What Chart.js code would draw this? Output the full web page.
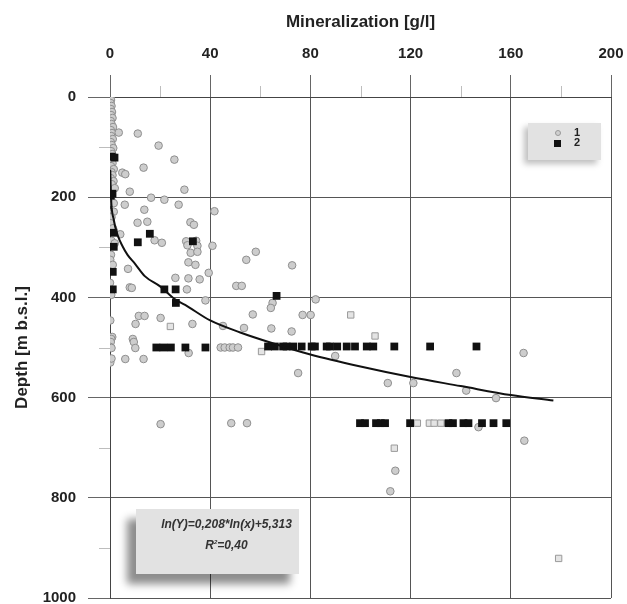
<!DOCTYPE html>
<html>
<head>
<meta charset="utf-8">
<script src="https://cdn.jsdelivr.net/npm/chart.js@4/dist/chart.umd.min.js"></script>
<style>
  html, body { margin: 0; padding: 0; background: #fff; }
  #wrap { position: relative; width: 627px; height: 604px; font-family: "Liberation Sans", Arial, sans-serif; }
  #c { position: absolute; left: 0; top: 0; }
  .box { position: absolute; background: #e2e2e2; }
  #legend { left: 528px; top: 123px; width: 73px; height: 37px; box-shadow: -4px 4px 6px rgba(0,0,0,0.25); }
  #legend .row { position: absolute; left: 0; font-weight: bold; font-size: 11px; color: #222; }
  #legend .lab { position: absolute; left: 46px; top: -7px; }
  #eq { left: 136px; top: 509px; width: 163px; height: 65px; box-shadow: -9px 10px 8px rgba(0,0,0,0.45); }
  #eq div { position: absolute; left: 18px; right: 0; text-align: center; font-weight: bold; font-style: italic; font-size: 12px; color: #333; }
</style>
</head>
<body>
<div id="wrap">
  <canvas id="c" width="627" height="604"></canvas>
  <div id="legend" class="box">
    <div class="row" style="top:10px;">
      <span style="position:absolute;left:27px;top:-3px;width:6px;height:6px;border-radius:50%;background:#cfcfcf;border:1px solid #999;box-sizing:border-box;"></span>
      <span class="lab">1</span>
    </div>
    <div class="row" style="top:20px;">
      <span style="position:absolute;left:26px;top:-3px;width:7px;height:7px;background:#111;"></span>
      <span class="lab">2</span>
    </div>
  </div>
  <div id="eq" class="box">
    <div style="top:8px;">ln(Y)=0,208*ln(x)+5,313</div>
    <div style="top:29px;">R<sup style="font-size:6px;">2</sup>=0,40</div>
  </div>
</div>
<script>
// ---- data (mineralization g/l, depth m b.s.l.) ----
const s1x = [0.2,0.4,0.2,0.6,0.3,0.8,0.4,1.0,0.3,0.6,1.2,0.3,0.8,0.5,1.1,0.3,0.7,1.3,0.4,0.9,0.3,1.0,0.4,1.5,0.6,1.0,0.3,1.4,0.7,1.9,0.5,1.5,1.5,0.6,0.3,1.2,0.6,1.9,0.4,0.1,1.1,0.0,0.5,0.1,0.9,0.5,0.3,0.1,0.6,0.1,0.6,
  3.5,11.1,19.4,25.7,13.4,4.9,6.1,7.9,29.7,5.9,16.4,21.7,27.4,41.7,13.7,11.0,14.9,32.1,33.5,4.1,17.8,20.7,40.9,30.4,34.4,30.9,34.9,32.2,34.9,54.4,58.2,31.3,34.1,7.2,26.1,31.3,35.8,39.4,7.9,8.7,30.7,50.4,52.6,38.1,57.0,11.5,13.8,10.2,20.2,32.9,45.1,53.5,9.1,9.5,10.1,31.4,44.2,45.8,47.8,49.1,51.1,6.1,13.4,20.2,48.4,54.7,72.7,64.9,64.2,82.1,76.9,80.1,64.4,72.5,89.9,75.1,110.9,121.1,113.9,111.9,165.1,138.3,142.2,154.1,147.1,165.4];
const s1y = [0,6,12,18,24,30,36,42,48,54,60,66,72,78,84,90,96,102,108,114,126,132,138,144,150,156,162,168,174,182,205,212,229,240,252,262,287,292,315,325,335,371,395,446,479,483,489,499,501,530,522,
  71,73,97,125,141,151,154,189,185,215,201,205,215,228,225,251,249,250,255,274,286,291,297,288,287,296,297,311,309,325,309,330,335,343,361,362,364,351,380,381,384,377,377,406,434,437,437,453,441,453,457,461,483,489,501,511,500,500,500,500,500,523,523,653,651,651,336,411,421,404,435,435,462,468,517,551,571,571,746,787,511,551,586,601,659,686];
const s1sqX = [24.1,60.5,96.1,105.8,113.5,122.7,127.5,129.4,132.1,179.1];
const s1sqY = [458,508,435,477,701,651,651,651,651,921];
const s2x = [0.7,1.8,1.0,0.3,1.4,15.9,11.1,33.1,1.5,1.1,1.1,21.7,26.2,26.3,66.5,18.5,21.3,24.3,30.1,38.1,
  63.1,65.8,69.1,70.5,73.1,76.5,80.5,81.8,86.5,87.8,90.7,94.5,97.8,102.5,105.1,113.5,127.8,146.3,
  99.8,101.8,106.2,108.1,109.8,119.8,135.1,136.9,141.1,143.1,148.5,153.1,158.2];
const s2y = [119,121,193,197,271,273,290,288,299,349,384,384,384,411,397,500,500,500,500,500,
  498,498,498,498,498,498,498,498,498,498,498,498,498,498,498,498,498,498,
  651,651,651,651,651,651,651,651,651,651,651,651,651];
const trendX = [0.1,0.4,1.5,3,5,7,10,14,20,26,30,40,52,64,80,100,120,140,160,177];
const trendY = [145,200,245,275,298,315,333,358,378,404,415,446,470,490,514,538,559,577,595,606];
const xMinor = [20,60,100,140,180];
const yMinor = [100,300,500,700,900];

const zip = (a, b) => a.map((v, i) => ({x: v, y: b[i]}));

const minorTicks = {
  id: 'minorTicks',
  afterDraw(chart) {
    const ctx = chart.ctx, xs = chart.scales.x, ys = chart.scales.y;
    ctx.save();
    ctx.strokeStyle = '#bdbdbd';
    ctx.lineWidth = 1;
    xMinor.forEach(v => {
      const p = Math.round(xs.getPixelForValue(v)) + 0.5;
      ctx.beginPath(); ctx.moveTo(p, xs.bottom - 11); ctx.lineTo(p, xs.bottom); ctx.stroke();
    });
    yMinor.forEach(v => {
      const p = Math.round(ys.getPixelForValue(v)) + 0.5;
      ctx.beginPath(); ctx.moveTo(ys.right - 11, p); ctx.lineTo(ys.right, p); ctx.stroke();
    });
    ctx.restore();
  }
};

const font = {family: '"Liberation Sans", Arial, sans-serif', weight: 'bold'};
const noPad = s => { s.paddingLeft = 0; s.paddingRight = 0; s.paddingTop = 0; s.paddingBottom = 0; };

new Chart(document.getElementById('c'), {
  type: 'scatter',
  data: {
    datasets: [
      {label: 'trend', type: 'line', data: zip(trendX, trendY), borderColor: '#111', borderWidth: 2,
       pointRadius: 0, fill: false, cubicInterpolationMode: 'monotone', order: 0},
      {label: '2', data: zip(s2x, s2y), pointStyle: 'rect', pointRadius: 5.5,
       backgroundColor: '#111', borderColor: '#111', borderWidth: 0, order: 1},
      {label: '1s', data: zip(s1sqX, s1sqY), pointStyle: 'rect', pointRadius: 4.5,
       backgroundColor: '#e4e4e4', borderColor: '#9a9a9a', borderWidth: 1, order: 2},
      {label: '1', data: zip(s1x, s1y), pointStyle: 'circle', pointRadius: 3.8,
       backgroundColor: '#cdcdcd', borderColor: '#8f8f8f', borderWidth: 1, order: 3}
    ]
  },
  options: {
    responsive: false,
    animation: false,
    layout: {padding: {left: 0, top: 0, right: 16, bottom: 6}},
    plugins: {legend: {display: false}, tooltip: {enabled: false}},
    scales: {
      x: {
        type: 'linear', position: 'top', min: 0, max: 200,
        afterFit: s => { s.height = 97; noPad(s); },
        ticks: {stepSize: 40, padding: 12, color: '#222', font: Object.assign({size: 15}, font),
                callback: v => String(v)},
        grid: {color: '#555', lineWidth: 1, tickLength: 22, tickColor: '#666'},
        border: {color: '#444', width: 1},
        title: {display: true, text: 'Mineralization [g/l]', color: '#222',
                font: Object.assign({size: 17}, font), padding: {top: 12, bottom: 0}}
      },
      y: {
        type: 'linear', position: 'left', min: 0, max: 1000, reverse: true,
        afterFit: s => { s.width = 110; noPad(s); },
        ticks: {stepSize: 200, padding: 12, color: '#222', font: Object.assign({size: 15}, font),
                callback: v => String(v)},
        grid: {color: '#555', lineWidth: 1, tickLength: 22, tickColor: '#666'},
        border: {color: '#444', width: 1},
        title: {display: true, text: 'Depth [m b.s.l.]', color: '#222',
                font: Object.assign({size: 17}, font), padding: {top: 12, bottom: 0}}
      }
    }
  },
  plugins: [minorTicks]
});
</script>
</body>
</html>
